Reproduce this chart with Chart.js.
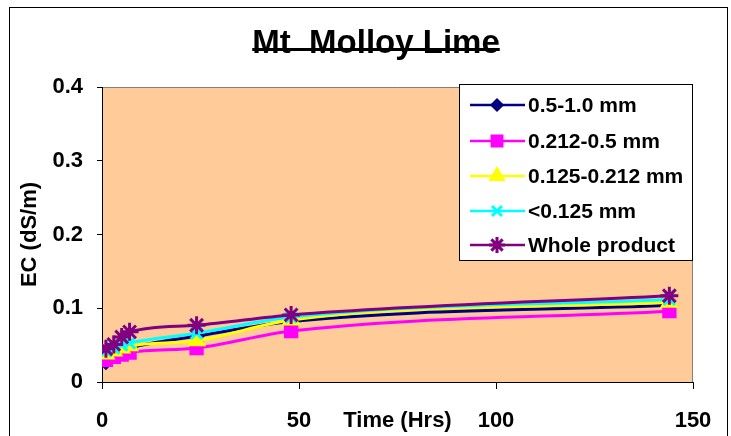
<!DOCTYPE html>
<html>
<head>
<meta charset="utf-8">
<script src="https://cdn.jsdelivr.net/npm/chart.js@4/dist/chart.umd.min.js"></script>
<style>
  html, body { margin: 0; padding: 0; background: #fff; }
  #wrap { width: 731px; height: 436px; }
</style>
</head>
<body>
<div id="wrap"><canvas id="ecChart" width="731" height="436"></canvas></div>
<script>
// tiempos de muestreo (horas) y EC por fracción
const times = [1, 3, 5, 7, 24, 48, 144];
const frac05to10 = [0.027, 0.036, 0.042, 0.046, 0.062, 0.082, 0.104];
const frac0212to05 = [0.030, 0.034, 0.037, 0.040, 0.046, 0.069, 0.096];
const frac0125to0212 = [0.038, 0.042, 0.046, 0.049, 0.056, 0.084, 0.108];
const fracUnder0125 = [0.042, 0.046, 0.050, 0.053, 0.066, 0.088, 0.112];
const wholeProduct = [0.045, 0.051, 0.061, 0.068, 0.077, 0.091, 0.117];

const seriesNames = ['0.5-1.0 mm', '0.212-0.5 mm', '0.125-0.212 mm', '<0.125 mm', 'Whole product'];
const xTicks = [0, 50, 100, 150];
const yTicks = [0, 0.1, 0.2, 0.3, 0.4];

const FONT = "'Liberation Sans', Arial, sans-serif";

function toPoints(vals) {
    return vals.map((v, i) => ({ x: times[i], y: v }));
}

function serie(label, vals, color, style, radius, order) {
    return {
        label: label,
        data: toPoints(vals),
        borderColor: color,
        backgroundColor: color,
        borderWidth: 3,
        pointStyle: style,
        pointRadius: radius,
        pointBorderWidth: 3,
        pointBorderColor: color,
        pointBackgroundColor: color,
        cubicInterpolationMode: 'monotone',
        order: order
    };
}

// fondo, bordes, título subrayado y leyenda
const decoPlugin = {
    id: 'deco',
    beforeDraw(chart) {
        const { ctx, chartArea: a } = chart;
        ctx.save();
        ctx.fillStyle = '#fff';
        ctx.fillRect(0, 0, chart.width, chart.height);
        ctx.strokeStyle = '#000';
        ctx.lineWidth = 1;
        ctx.strokeRect(9.5, 7.5, 718, 440);
        ctx.fillStyle = '#FFCC99';
        ctx.fillRect(a.left, a.top, a.right - a.left, a.bottom - a.top);
        ctx.strokeStyle = '#808080';
        ctx.beginPath();
        ctx.moveTo(a.left, a.top + 0.5);
        ctx.lineTo(a.right - 0.5, a.top + 0.5);
        ctx.lineTo(a.right - 0.5, a.bottom);
        ctx.stroke();

        // título
        ctx.fillStyle = '#000';
        ctx.font = 'bold 33px ' + FONT;
        ctx.textAlign = 'center';
        ctx.textBaseline = 'alphabetic';
        const txt = 'Mt  Molloy Lime';
        const w = ctx.measureText(txt).width;
        ctx.fillText(txt, 376, 53);
        ctx.fillRect(376 - w / 2, 48, w, 3);
        ctx.restore();
    },
    afterDraw(chart) {
        const { ctx } = chart;
        const box = { x: 459.5, y: 84.5, w: 233, h: 176 };
        ctx.save();
        ctx.fillStyle = '#fff';
        ctx.fillRect(box.x, box.y, box.w, box.h);
        ctx.strokeStyle = '#000';
        ctx.lineWidth = 1;
        ctx.strokeRect(box.x, box.y, box.w, box.h);
        const rows = [105, 141, 176, 211, 245];
        chart.data.datasets.forEach((ds, i) => {
            const y = rows[i];
            ctx.strokeStyle = ds.borderColor;
            ctx.lineWidth = 2.5;
            ctx.beginPath();
            ctx.moveTo(470, y);
            ctx.lineTo(525, y);
            ctx.stroke();
            ctx.fillStyle = ds.borderColor;
            ctx.lineWidth = ds.pointBorderWidth;
            Chart.helpers.drawPoint(ctx, {
                pointStyle: ds.pointStyle,
                radius: ds.pointRadius - 1,
                rotation: 0,
                borderWidth: ds.pointBorderWidth
            }, 497, y);
            ctx.fillStyle = '#000';
            ctx.font = 'bold 21px ' + FONT;
            ctx.textAlign = 'left';
            ctx.textBaseline = 'middle';
            ctx.fillText(ds.label, 528, y + 1);
        });
        ctx.restore();
    }
};

document.addEventListener('DOMContentLoaded', () => {
    const ctx = document.getElementById('ecChart').getContext('2d');
    new Chart(ctx, {
        type: 'line',
        data: {
            datasets: [
                serie(seriesNames[0], frac05to10, '#000080', 'rectRot', 6, 5),
                serie(seriesNames[1], frac0212to05, '#FF00FF', 'rect', 8, 4),
                serie(seriesNames[2], frac0125to0212, '#FFFF00', 'triangle', 8, 3),
                serie(seriesNames[3], fracUnder0125, '#00FFFF', 'crossRot', 8, 2),
                serie(seriesNames[4], wholeProduct, '#800080', 'star', 9, 1)
            ]
        },
        options: {
            responsive: false,
            animation: false,
            layout: { padding: { left: 9, right: 38, top: 87, bottom: 0 } },
            plugins: {
                legend: { display: false },
                tooltip: { enabled: false }
            },
            scales: {
                x: {
                    type: 'linear',
                    min: 0,
                    max: 150,
                    afterBuildTicks: s => { s.ticks = xTicks.map(v => ({ value: v })); },
                    afterFit: s => { s.height = 54; },
                    grid: { display: true, drawOnChartArea: false, drawTicks: true, tickLength: 7, color: '#000' },
                    border: { display: true, color: '#000', width: 1 },
                    ticks: { color: '#000', padding: 19, maxRotation: 0, font: { family: FONT, size: 22, weight: 'bold' } },
                    title: {
                        display: true,
                        text: 'Time (Hrs)',
                        color: '#000',
                        padding: { top: 0, bottom: 2 },
                        font: { family: FONT, size: 22, weight: 'bold' }
                    }
                },
                y: {
                    min: 0,
                    max: 0.4,
                    afterBuildTicks: s => { s.ticks = yTicks.map(v => ({ value: v })); },
                    afterFit: s => { s.width = 93; },
                    grid: { display: true, drawOnChartArea: false, drawTicks: true, tickLength: 5, color: '#000' },
                    border: { display: true, color: '#000', width: 1 },
                    ticks: {
                        color: '#000',
                        padding: 14,
                        font: { family: FONT, size: 22, weight: 'bold' },
                        callback: v => (v === 0 ? '0' : v.toFixed(1))
                    },
                    title: {
                        display: true,
                        text: 'EC (dS/m)',
                        color: '#000',
                        padding: { top: 8, bottom: 0 },
                        font: { family: FONT, size: 22, weight: 'bold' }
                    }
                }
            }
        },
        plugins: [decoPlugin]
    });
});
</script>
</body>
</html>
